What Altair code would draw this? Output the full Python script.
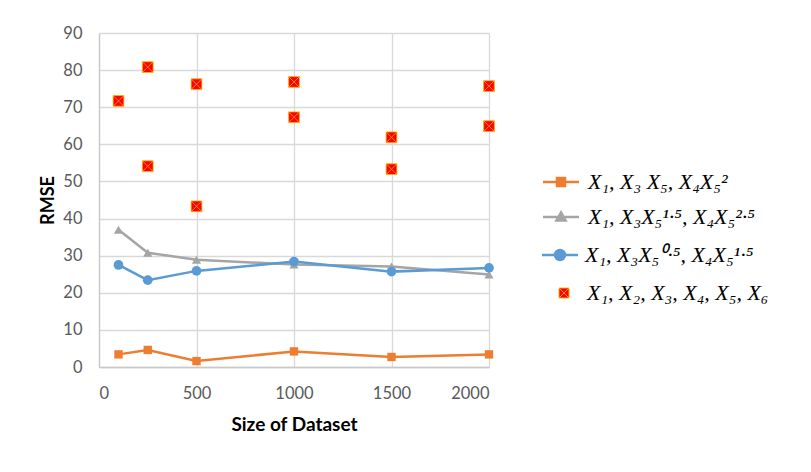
import altair as alt
import pandas as pd

# ---- data ----
sizes = [100, 250, 500, 1000, 1500, 2000]
orange_vals = [3.4, 4.6, 1.6, 4.2, 2.7, 3.4]
gray_vals = [37.0, 30.8, 28.9, 27.6, 27.1, 24.9]
blue_vals = [27.5, 23.4, 25.9, 28.4, 25.7, 26.7]
red_sizes = [100, 250, 250, 500, 500, 1000, 1000, 1500, 1500, 2000, 2000]
red_vals = [71.7, 80.8, 54.1, 76.2, 43.3, 76.8, 67.3, 61.9, 53.3, 75.7, 64.9]

labels = [
    "X₁, X₃ X₅, X₄X₅²",
    "X₁, X₃X₅¹·⁵, X₄X₅²·⁵",
    "X₁, X₃X₅⁰·⁵, X₄X₅¹·⁵",
    "X₁, X₂, X₃, X₄, X₅, X₆",
]
x_ticks = [0, 500, 1000, 1500, 2000]
y_ticks = [0, 10, 20, 30, 40, 50, 60, 70, 80, 90]

ORANGE = "#ED7D31"
GRAY = "#A5A5A5"
BLUE = "#5B9BD5"
RED = "#FF0000"
XCOL = "#FFB000"

df_orange = pd.DataFrame({"size": sizes, "rmse": orange_vals, "series": labels[0]})
df_gray = pd.DataFrame({"size": sizes, "rmse": gray_vals, "series": labels[1]})
df_blue = pd.DataFrame({"size": sizes, "rmse": blue_vals, "series": labels[2]})
df_red = pd.DataFrame({"size": red_sizes, "rmse": red_vals, "series": labels[3]})

X = alt.X("size:Q", scale=alt.Scale(domain=[0, 2000], nice=False),
          axis=alt.Axis(values=x_ticks, format="d", title="Size of Dataset"))
Y = alt.Y("rmse:Q", scale=alt.Scale(domain=[0, 90], nice=False),
          axis=alt.Axis(values=y_ticks, format="d", title="RMSE"))

RED_PATH = "M-1,-1L1,-1L1,1L-1,1ZM-1,-1L1,1M1,-1L-1,1"

legend_paths = [
    "M-4.5,0L4.5,0M-1,-1L1,-1L1,1L-1,1Z",
    "M-4.5,0L4.5,0M0,-1.15L1.15,0.85L-1.15,0.85Z",
    "M-3.6,0L3.6,0M-1,0A1,1,0,1,0,1,0A1,1,0,1,0,-1,0Z",
    RED_PATH,
]
legend_fill = [ORANGE, GRAY, BLUE, RED]
legend_stroke = [ORANGE, GRAY, BLUE, XCOL]
legend_sw = [2.5, 2.5, 2.5, 0.9]
legend_size = [64, 64, 100, 100]
legend_x = [451, 451, 450, 454]
legend_y = [138, 173, 211, 249]
legend_off = [16, 16, 14, 12]

layers = []
layers.append(alt.Chart(df_orange).mark_line(color=ORANGE, strokeWidth=2.5).encode(x=X, y=Y))
layers.append(alt.Chart(df_orange).mark_point(shape="square", filled=True, color=ORANGE, size=70, opacity=1).encode(x=X, y=Y))
layers.append(alt.Chart(df_gray).mark_line(color=GRAY, strokeWidth=2.5).encode(x=X, y=Y))
layers.append(alt.Chart(df_gray).mark_point(shape="triangle-up", filled=True, color=GRAY, size=85, opacity=1).encode(x=X, y=Y))
layers.append(alt.Chart(df_blue).mark_line(color=BLUE, strokeWidth=2.5).encode(x=X, y=Y))
layers.append(alt.Chart(df_blue).mark_point(shape="circle", filled=True, color=BLUE, size=95, opacity=1).encode(x=X, y=Y))
layers.append(alt.Chart(df_red).mark_point(shape=RED_PATH, filled=True, fill=RED, stroke=XCOL,
                                           strokeWidth=0.8, size=115, opacity=1).encode(x=X, y=Y))

# legend-only layers (invisible marks, one legend each)
dfs = [df_orange, df_gray, df_blue, df_red]
for i in range(4):
    leg = alt.Legend(
        title=None, orient="none", legendX=legend_x[i], legendY=legend_y[i],
        symbolStrokeWidth=legend_sw[i], symbolSize=legend_size[i], symbolOpacity=1,
        labelFont="Liberation Serif", labelFontSize=22, labelFontStyle="italic",
        labelColor="#000000", labelOffset=legend_off[i], labelLimit=0, padding=0,
    )
    layers.append(
        alt.Chart(dfs[i]).mark_point(opacity=0, filled=True)
        .encode(
            x=X, y=Y,
            shape=alt.Shape("series:N", scale=alt.Scale(range=[legend_paths[i]]), legend=leg),
            fill=alt.Fill("series:N", scale=alt.Scale(range=[legend_fill[i]]), legend=leg),
            stroke=alt.Stroke("series:N", scale=alt.Scale(range=[legend_stroke[i]]), legend=leg),
        )
    )

chart = (
    alt.layer(*layers)
    .resolve_scale(shape="independent", fill="independent", stroke="independent")
    .resolve_legend(shape="independent", fill="independent", stroke="independent")
    .properties(width=390, height=334, padding={"left": 31, "top": 17, "right": 5, "bottom": 5})
    .configure_view(stroke=None)
    .configure_axis(
        gridColor="#d9d9d9", gridWidth=1.3, domainColor="#c8c8c8", domainWidth=1.3,
        ticks=False, tickSize=0, labelFont="Lato", labelFontSize=16.5, labelColor="#595959",
        titleFont="Lato", titleFontSize=18, titleFontWeight="bold", titleColor="#000000",
    )
    .configure_axisX(labelPadding=18, titlePadding=14, titleFontSize=19)
    .configure_axisY(labelPadding=17, titlePadding=5)
)

chart.save("out.html", embed_options={"renderer": "svg", "actions": False})
